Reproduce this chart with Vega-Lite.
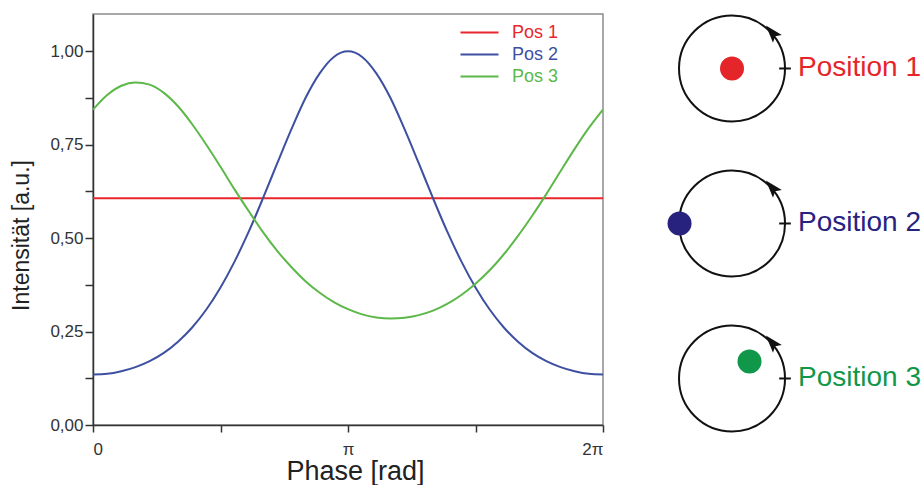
{
  "$schema": "https://vega.github.io/schema/vega-lite/v6.json",
  "padding": {"left": 10, "top": 11, "right": 0, "bottom": 0},
  "background": "white",
  "config": {
    "font": "Liberation Sans",
    "view": {"stroke": null}
  },
  "spacing": 56,
  "hconcat": [
    {
      "width": 510,
      "height": 411,
      "view": {"stroke": "#8c8c8c", "strokeWidth": 1.5},
      "data": {"values": [
        {"series": "Pos 1", "phase": 0, "intensity": 0.607},
        {"series": "Pos 1", "phase": 6.2832, "intensity": 0.607},
        {"series": "Pos 2", "phase": 0, "intensity": 0.135},
        {"series": "Pos 2", "phase": 0.1745, "intensity": 0.137},
        {"series": "Pos 2", "phase": 0.3491, "intensity": 0.144},
        {"series": "Pos 2", "phase": 0.5236, "intensity": 0.155},
        {"series": "Pos 2", "phase": 0.6981, "intensity": 0.171},
        {"series": "Pos 2", "phase": 0.8727, "intensity": 0.193},
        {"series": "Pos 2", "phase": 1.0472, "intensity": 0.223},
        {"series": "Pos 2", "phase": 1.2217, "intensity": 0.261},
        {"series": "Pos 2", "phase": 1.3963, "intensity": 0.309},
        {"series": "Pos 2", "phase": 1.5708, "intensity": 0.368},
        {"series": "Pos 2", "phase": 1.7453, "intensity": 0.438},
        {"series": "Pos 2", "phase": 1.9199, "intensity": 0.518},
        {"series": "Pos 2", "phase": 2.0944, "intensity": 0.607},
        {"series": "Pos 2", "phase": 2.2689, "intensity": 0.700},
        {"series": "Pos 2", "phase": 2.4435, "intensity": 0.791},
        {"series": "Pos 2", "phase": 2.618, "intensity": 0.875},
        {"series": "Pos 2", "phase": 2.7925, "intensity": 0.941},
        {"series": "Pos 2", "phase": 2.9671, "intensity": 0.985},
        {"series": "Pos 2", "phase": 3.1416, "intensity": 1.000},
        {"series": "Pos 2", "phase": 3.3161, "intensity": 0.985},
        {"series": "Pos 2", "phase": 3.4907, "intensity": 0.941},
        {"series": "Pos 2", "phase": 3.6652, "intensity": 0.875},
        {"series": "Pos 2", "phase": 3.8397, "intensity": 0.791},
        {"series": "Pos 2", "phase": 4.0143, "intensity": 0.700},
        {"series": "Pos 2", "phase": 4.1888, "intensity": 0.607},
        {"series": "Pos 2", "phase": 4.3633, "intensity": 0.518},
        {"series": "Pos 2", "phase": 4.5379, "intensity": 0.438},
        {"series": "Pos 2", "phase": 4.7124, "intensity": 0.368},
        {"series": "Pos 2", "phase": 4.8869, "intensity": 0.309},
        {"series": "Pos 2", "phase": 5.0615, "intensity": 0.261},
        {"series": "Pos 2", "phase": 5.236, "intensity": 0.223},
        {"series": "Pos 2", "phase": 5.4105, "intensity": 0.193},
        {"series": "Pos 2", "phase": 5.5851, "intensity": 0.171},
        {"series": "Pos 2", "phase": 5.7596, "intensity": 0.155},
        {"series": "Pos 2", "phase": 5.9341, "intensity": 0.144},
        {"series": "Pos 2", "phase": 6.1087, "intensity": 0.137},
        {"series": "Pos 2", "phase": 6.2832, "intensity": 0.135},
        {"series": "Pos 3", "phase": 0, "intensity": 0.844},
        {"series": "Pos 3", "phase": 0.1745, "intensity": 0.883},
        {"series": "Pos 3", "phase": 0.3491, "intensity": 0.908},
        {"series": "Pos 3", "phase": 0.5236, "intensity": 0.917},
        {"series": "Pos 3", "phase": 0.6981, "intensity": 0.911},
        {"series": "Pos 3", "phase": 0.8727, "intensity": 0.889},
        {"series": "Pos 3", "phase": 1.0472, "intensity": 0.853},
        {"series": "Pos 3", "phase": 1.2217, "intensity": 0.805},
        {"series": "Pos 3", "phase": 1.3963, "intensity": 0.750},
        {"series": "Pos 3", "phase": 1.5708, "intensity": 0.691},
        {"series": "Pos 3", "phase": 1.7453, "intensity": 0.630},
        {"series": "Pos 3", "phase": 1.9199, "intensity": 0.572},
        {"series": "Pos 3", "phase": 2.0944, "intensity": 0.516},
        {"series": "Pos 3", "phase": 2.2689, "intensity": 0.466},
        {"series": "Pos 3", "phase": 2.4435, "intensity": 0.423},
        {"series": "Pos 3", "phase": 2.618, "intensity": 0.385},
        {"series": "Pos 3", "phase": 2.7925, "intensity": 0.354},
        {"series": "Pos 3", "phase": 2.9671, "intensity": 0.329},
        {"series": "Pos 3", "phase": 3.1416, "intensity": 0.310},
        {"series": "Pos 3", "phase": 3.3161, "intensity": 0.296},
        {"series": "Pos 3", "phase": 3.4907, "intensity": 0.288},
        {"series": "Pos 3", "phase": 3.6652, "intensity": 0.285},
        {"series": "Pos 3", "phase": 3.8397, "intensity": 0.287},
        {"series": "Pos 3", "phase": 4.0143, "intensity": 0.294},
        {"series": "Pos 3", "phase": 4.1888, "intensity": 0.306},
        {"series": "Pos 3", "phase": 4.3633, "intensity": 0.324},
        {"series": "Pos 3", "phase": 4.5379, "intensity": 0.348},
        {"series": "Pos 3", "phase": 4.7124, "intensity": 0.378},
        {"series": "Pos 3", "phase": 4.8869, "intensity": 0.414},
        {"series": "Pos 3", "phase": 5.0615, "intensity": 0.457},
        {"series": "Pos 3", "phase": 5.236, "intensity": 0.506},
        {"series": "Pos 3", "phase": 5.4105, "intensity": 0.560},
        {"series": "Pos 3", "phase": 5.5851, "intensity": 0.618},
        {"series": "Pos 3", "phase": 5.7596, "intensity": 0.679},
        {"series": "Pos 3", "phase": 5.9341, "intensity": 0.739},
        {"series": "Pos 3", "phase": 6.1087, "intensity": 0.795},
        {"series": "Pos 3", "phase": 6.2832, "intensity": 0.844}
      ]},
      "mark": {"type": "line", "strokeWidth": 2, "interpolate": "monotone", "clip": true},
      "encoding": {
        "x": {
          "field": "phase", "type": "quantitative",
          "scale": {"domain": [0, 6.2832], "nice": false, "zero": false},
          "axis": {
            "values": [0, 1.5708, 3.1416, 4.7124, 6.2832],
            "labelExpr": "datum.value < 0.1 ? '0' : abs(datum.value - 3.1416) < 0.01 ? 'π' : datum.value > 6.2 ? '2π' : ''",
            "title": "Phase [rad]",
            "titleFontSize": 27, "titleFontWeight": "normal", "titleColor": "#222",
            "titlePadding": 1, "titleX": 262,
            "labelFontSize": 17, "labelColor": "#333", "labelPadding": 9,
            "tickSize": 7, "tickColor": "#333", "tickWidth": 1.5,
            "domainColor": "#333", "domainWidth": 1.5, "grid": false,
            "encode": {"ticks": {"update": {
              "y": {"signal": "abs(datum.value / PI - round(datum.value / PI)) < 0.01 ? -7 : -4"},
              "y2": {"signal": "abs(datum.value / PI - round(datum.value / PI)) < 0.01 ? 7 : 4"}
            }}}
          }
        },
        "y": {
          "field": "intensity", "type": "quantitative",
          "scale": {"domain": [0, 1.1], "nice": false, "zero": true},
          "axis": {
            "values": [0, 0.125, 0.25, 0.375, 0.5, 0.625, 0.75, 0.875, 1],
            "labelExpr": "(datum.value * 8) % 2 == 1 ? '' : replace(format(datum.value, '.2f'), '.', ',')",
            "title": "Intensität [a.u.]",
            "titleFontSize": 23, "titleFontWeight": "normal", "titleColor": "#222",
            "titlePadding": 16, "titleY": 221,
            "labelFontSize": 17, "labelColor": "#333", "labelPadding": 2,
            "tickSize": 8, "tickColor": "#333", "tickWidth": 1.5,
            "domainColor": "#333", "domainWidth": 1.5, "grid": false,
            "encode": {"ticks": {"update": {
              "x": {"signal": "(datum.value * 8) % 2 == 1 ? -4 : -8"},
              "x2": {"signal": "(datum.value * 8) % 2 == 1 ? 4 : 8"}
            }}}
          }
        },
        "color": {
          "field": "series", "type": "nominal",
          "scale": {"domain": ["Pos 1", "Pos 2", "Pos 3"], "range": ["#e8262b", "#3d4fa0", "#5cb848"]},
          "legend": {
            "orient": "none", "legendX": 376, "legendY": 8, "title": null,
            "symbolType": "M-2,0L2,0", "symbolSize": 361, "symbolStrokeWidth": 2,
            "labelFontSize": 18, "labelOffset": 22, "rowPadding": 2, "padding": 0,
            "encode": {"labels": {"update": {
              "fill": {"signal": "datum.value == 'Pos 1' ? '#e8262b' : datum.value == 'Pos 2' ? '#3d4fa0' : '#5cb848'"}
            }}}
          }
        }
      }
    },
    {
      "data": {"values": [
        {"pos": "Position 1", "px": 0, "py": 0},
        {"pos": "Position 2", "px": -0.99, "py": 0},
        {"pos": "Position 3", "px": 0.33, "py": 0.32}
      ]},
      "facet": {"row": {"field": "pos", "type": "nominal", "header": {"labels": false, "title": null}}},
      "spacing": {"row": 32},
      "spec": {
        "width": 252,
        "height": 120,
        "layer": [
          {
            "mark": {"type": "point", "shape": "circle", "filled": false, "size": 11236, "stroke": "#111", "strokeWidth": 2, "opacity": 1},
            "encoding": {
              "x": {"datum": 0, "type": "quantitative", "scale": {"domain": [-1.34, 3.415], "nice": false, "zero": false}, "axis": null},
              "y": {"datum": 0, "type": "quantitative", "scale": {"domain": [-1.236, 1.028], "nice": false, "zero": false}, "axis": null}
            }
          },
          {
            "mark": {"type": "point", "shape": "M0,-1L-0.6,0.8L0,0.45L0.6,0.8Z", "filled": true, "size": 380, "fill": "#111", "angle": 319, "opacity": 1},
            "encoding": {
              "x": {"datum": 0.76, "type": "quantitative", "scale": {"domain": [-1.34, 3.415], "nice": false, "zero": false}, "axis": null},
              "y": {"datum": 0.67, "type": "quantitative", "scale": {"domain": [-1.236, 1.028], "nice": false, "zero": false}, "axis": null}
            }
          },
          {
            "mark": {"type": "rule", "stroke": "#111", "strokeWidth": 2},
            "encoding": {
              "x": {"datum": 0.89, "type": "quantitative", "scale": {"domain": [-1.34, 3.415], "nice": false, "zero": false}, "axis": null},
              "x2": {"datum": 1.11},
              "y": {"datum": 0, "type": "quantitative", "scale": {"domain": [-1.236, 1.028], "nice": false, "zero": false}, "axis": null}
            }
          },
          {
            "mark": {"type": "point", "shape": "circle", "filled": true, "size": 576, "opacity": 1},
            "encoding": {
              "x": {"field": "px", "type": "quantitative", "scale": {"domain": [-1.34, 3.415], "nice": false, "zero": false}, "axis": null},
              "y": {"field": "py", "type": "quantitative", "scale": {"domain": [-1.236, 1.028], "nice": false, "zero": false}, "axis": null},
              "fill": {"field": "pos", "type": "nominal", "scale": {"domain": ["Position 1", "Position 2", "Position 3"], "range": ["#e4262b", "#28227f", "#11974a"]}, "legend": null}
            }
          },
          {
            "mark": {"type": "text", "align": "left", "baseline": "middle", "fontSize": 28, "font": "Liberation Sans"},
            "encoding": {
              "x": {"datum": 1.245, "type": "quantitative", "scale": {"domain": [-1.34, 3.415], "nice": false, "zero": false}, "axis": null},
              "y": {"datum": 0, "type": "quantitative", "scale": {"domain": [-1.236, 1.028], "nice": false, "zero": false}, "axis": null},
              "text": {"field": "pos", "type": "nominal"},
              "fill": {"field": "pos", "type": "nominal", "scale": {"domain": ["Position 1", "Position 2", "Position 3"], "range": ["#e4262b", "#28227f", "#11974a"]}, "legend": null}
            }
          }
        ]
      }
    }
  ]
}
